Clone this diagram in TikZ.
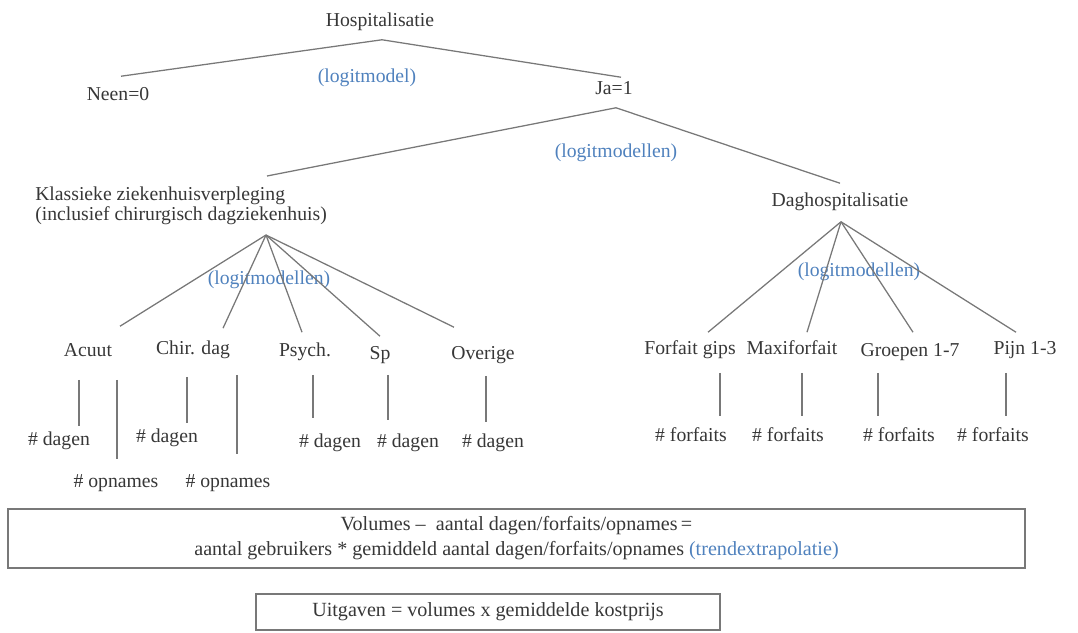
\documentclass[tikz,border=0pt]{standalone}
\usepackage{fontspec}
\setmainfont{Liberation Serif}

\definecolor{txtgray}{RGB}{55,55,55}
\definecolor{linegray}{RGB}{120,120,120}
\definecolor{logitblue}{RGB}{79,129,189}

\begin{document}
\begin{tikzpicture}[x=0.025cm,y=-0.025cm,
  lbl/.style={font=\fontsize{14}{17}\selectfont,text=txtgray,text height=10pt,text depth=3.5pt,inner sep=0.125cm},
  logit/.style={font=\fontsize{14}{17}\selectfont,text=logitblue,inner sep=0pt},
  link/.style={draw=linegray,line width=0.9pt},
  box/.style={draw=linegray,line width=1pt,align=center,text=txtgray,font=\fontsize{14.3}{17.7}\selectfont}]
\useasboundingbox (0,0) rectangle (1078,632);

% top of the tree
\node[lbl] (hosp) at (380,22) {Hospitalisatie};
\node[lbl] (neen) at (118,96) {Neen=0};
\node[lbl] (ja) at (614,90) {Ja=1};
\node[logit] (lm-hosp) at (367,78) {(logitmodel)};
\draw[link] ([shift={(2,3)}]hosp.south) -- ([shift={(3,-5)}]neen.north);
\draw[link] ([shift={(2,3)}]hosp.south) -- ([shift={(7,2)}]ja.north);

% second level
\node[font=\fontsize{14}{14.5}\selectfont,text=txtgray,align=left,anchor=west,inner sep=0pt] (klas) at (35,206)
  {Klassieke ziekenhuisverpleging\\(inclusief chirurgisch dagziekenhuis)};
\node[lbl] (dagh) at (840,202) {Daghospitalisatie};
\node[logit] (lm-ja) at (616,153) {(logitmodellen)};
\coordinate (klas-in) at (267,176);
\coordinate (klas-hub) at (266,235);
\draw[link] ([shift={(2,3)}]ja.south) -- (klas-in);
\draw[link] ([shift={(2,3)}]ja.south) -- ([shift={(0,-4)}]dagh.north);

% klassieke ziekenhuisverpleging
\node[lbl] (acuut) at (88,352) {Acuut};
\node[lbl] (chir) at (193,350) {Chir. dag};
\node[lbl] (psych) at (305,352) {Psych.};
\node[lbl] (sp) at (380,355) {Sp};
\node[lbl] (overige) at (483,355) {Overige};
\node[logit] (lm-klas) at (269,280) {(logitmodellen)};
\draw[link] (klas-hub) -- ([shift={(32,-11)}]acuut.north);
\draw[link] (klas-hub) -- ([shift={(30,-7)}]chir.north);
\draw[link] (klas-hub) -- ([shift={(-3,-5)}]psych.north);
\draw[link] (klas-hub) -- ([shift={(0,-4)}]sp.north);
\draw[link] (klas-hub) -- ([shift={(-29,-13)}]overige.north);

% daghospitalisatie
\node[lbl] (gips) at (690,350) {Forfait gips};
\node[lbl] (maxi) at (792,350) {Maxiforfait};
\node[lbl] (groepen) at (910,352) {Groepen 1-7};
\node[lbl] (pijn) at (1025,350) {Pijn 1-3};
\node[logit] (lm-dagh) at (859,272) {(logitmodellen)};
\draw[link] ([shift={(1,5)}]dagh.south) -- ([shift={(18,-3)}]gips.north);
\draw[link] ([shift={(1,5)}]dagh.south) -- ([shift={(15,-3)}]maxi.north);
\draw[link] ([shift={(1,5)}]dagh.south) -- ([shift={(3,-5)}]groepen.north);
\draw[link] ([shift={(1,5)}]dagh.south) -- ([shift={(-9,-3)}]pijn.north);

% volumes
\node[lbl] (acuut-d) at (59,441) {\# dagen};
\node[lbl] (acuut-o) at (116,483) {\# opnames};
\node[lbl] (chir-d) at (167,438) {\# dagen};
\node[lbl] (chir-o) at (228,483) {\# opnames};
\node[lbl] (psych-d) at (330,443) {\# dagen};
\node[lbl] (sp-d) at (408,443) {\# dagen};
\node[lbl] (overige-d) at (493,443) {\# dagen};
\draw[link] ([shift={(-9,13)}]acuut.south) -- ([shift={(20,0)}]acuut-d.north);
\draw[link] ([shift={(29,13)}]acuut.south) -- ([shift={(1,-9)}]acuut-o.north);
\draw[link] ([shift={(-6,12)}]chir.south) -- ([shift={(20,0)}]chir-d.north);
\draw[link] ([shift={(44,10)}]chir.south) -- ([shift={(9,-14)}]chir-o.north);
\draw[link] ([shift={(8,8)}]psych.south) -- ([shift={(-17,-10)}]psych-d.north);
\draw[link] ([shift={(8,5)}]sp.south) -- ([shift={(-20,-8)}]sp-d.north);
\draw[link] ([shift={(3,6)}]overige.south) -- ([shift={(-7,-6)}]overige-d.north);

\node[lbl] (gips-f) at (691,437) {\# forfaits};
\node[lbl] (maxi-f) at (788,437) {\# forfaits};
\node[lbl] (groepen-f) at (899,437) {\# forfaits};
\node[lbl] (pijn-f) at (993,437) {\# forfaits};
\draw[link] ([shift={(30,8)}]gips.south) -- ([shift={(29,-6)}]gips-f.north);
\draw[link] ([shift={(10,8)}]maxi.south) -- ([shift={(14,-6)}]maxi-f.north);
\draw[link] ([shift={(-32,6)}]groepen.south) -- ([shift={(-21,-6)}]groepen-f.north);
\draw[link] ([shift={(-19,8)}]pijn.south) -- ([shift={(13,-6)}]pijn-f.north);

% formulas
\node[box,minimum width=25.425cm,minimum height=1.475cm] (vol) at (516.5,538.5)
  {Volumes --\enspace aantal dagen/forfaits/opnames\,=\\aantal gebruikers * gemiddeld aantal dagen/forfaits/opnames {\color{logitblue}(trendextrapolatie)}};
\node[box,minimum width=11.6cm,minimum height=0.9cm] (uitg) at (488,612)
  {Uitgaven = volumes x gemiddelde kostprijs};

\end{tikzpicture}
\end{document}
